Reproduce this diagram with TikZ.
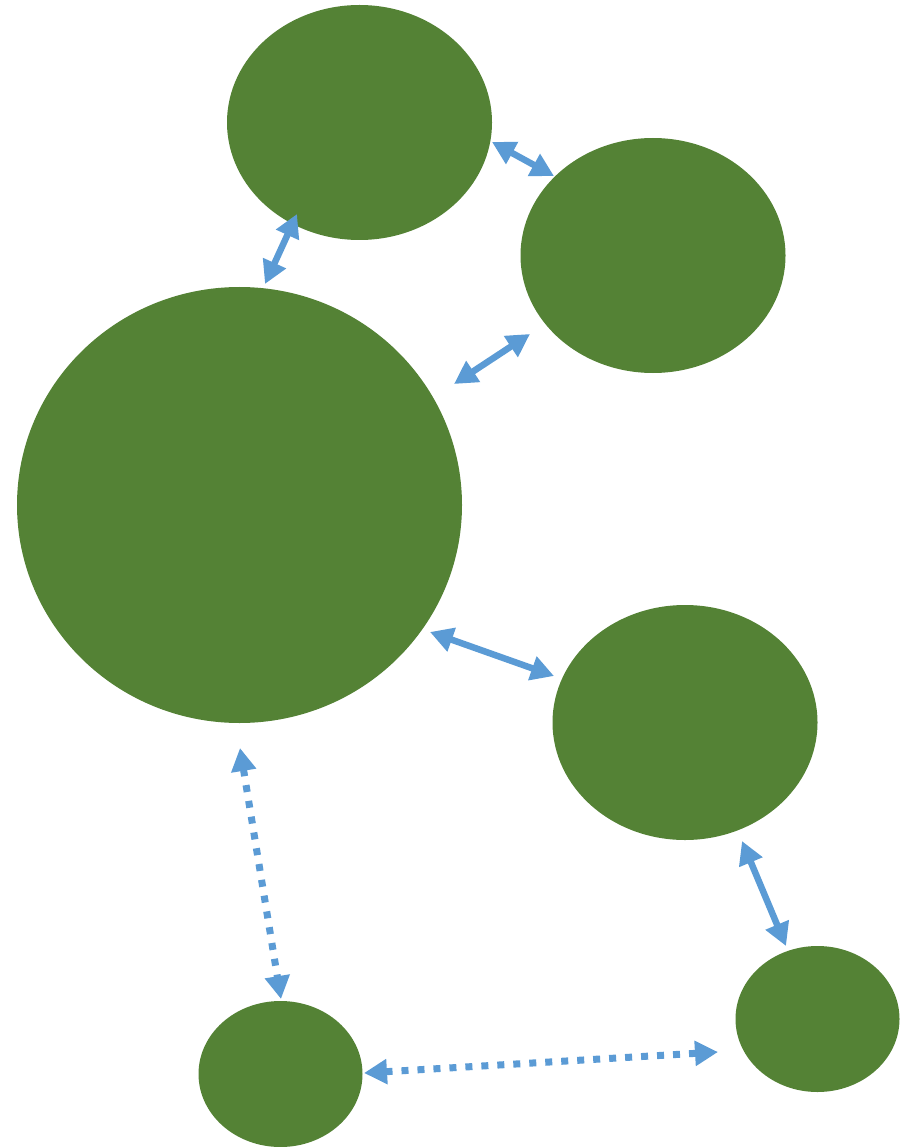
\documentclass[tikz,border=0pt]{standalone}
\usetikzlibrary{arrows.meta,calc,shapes.geometric}
\definecolor{leaf}{HTML}{548235}
\definecolor{sky}{HTML}{5B9BD5}
\begin{document}
\begin{tikzpicture}[x=1pt,y=-1pt,
  blob/.style={ellipse,fill=leaf,draw=none,inner sep=0pt},
  bigblob/.style={blob,minimum width=445pt,minimum height=436pt},
  midblob/.style={blob,minimum width=265pt,minimum height=235pt},
  smallblob/.style={blob,minimum width=164pt,minimum height=146pt},
  link/.style={draw=sky,line width=6.5pt,
    {Triangle[length=23pt,width=24pt]}-{Triangle[length=23pt,width=24pt]}},
  dotlink/.style={link,line width=7pt,dash pattern=on 7pt off 9pt}]
\useasboundingbox (0,0) rectangle (915,1147);

% circles
\node[midblob]   (top)    at (359.5,122.5) {};
\node[midblob]   (upper)  at (653,255.5)   {};
\node[bigblob]   (core)   at (239.5,505)   {};
\node[midblob]   (lower)  at (685,722.5)   {};
\node[smallblob] (corner) at (817.5,1019)  {};
\node[smallblob] (base)   at (280.5,1074)  {};

% arrow end points, placed relative to the circles they join
\coordinate (top-core)     at ($(top.center)+(-62.5,91.5)$);
\coordinate (core-top)     at ($(core.center)+(25.5,-221)$);
\coordinate (top-upper)    at ($(top.center)+(132.5,19.5)$);
\coordinate (upper-top)    at ($(upper.center)+(-99,-79.5)$);
\coordinate (core-upper)   at ($(core.center)+(214.5,-121)$);
\coordinate (upper-core)   at ($(upper.center)+(-123,78.5)$);
\coordinate (core-lower)   at ($(core.center)+(190.5,127)$);
\coordinate (lower-core)   at ($(lower.center)+(-131,-46.5)$);
\coordinate (lower-corner) at ($(lower.center)+(57,118.5)$);
\coordinate (corner-lower) at ($(corner.center)+(-31.5,-73)$);
\coordinate (core-base)    at ($(core.center)+(0.5,243)$);
\coordinate (base-core)    at ($(base.center)+(0.5,-75)$);
\coordinate (base-corner)  at ($(base.center)+(83.5,-1)$);
\coordinate (corner-base)  at ($(corner.center)+(-99.5,33)$);

% solid links
\draw[link] (top-core) -- (core-top);
\draw[link] (top-upper) -- (upper-top);
\draw[link] (core-upper) -- (upper-core);
\draw[link] (core-lower) -- (lower-core);
\draw[link] (lower-corner) -- (corner-lower);

% dotted links
\draw[dotlink] (core-base) -- (base-core);
\draw[dotlink] (base-corner) -- (corner-base);
\end{tikzpicture}
\end{document}
